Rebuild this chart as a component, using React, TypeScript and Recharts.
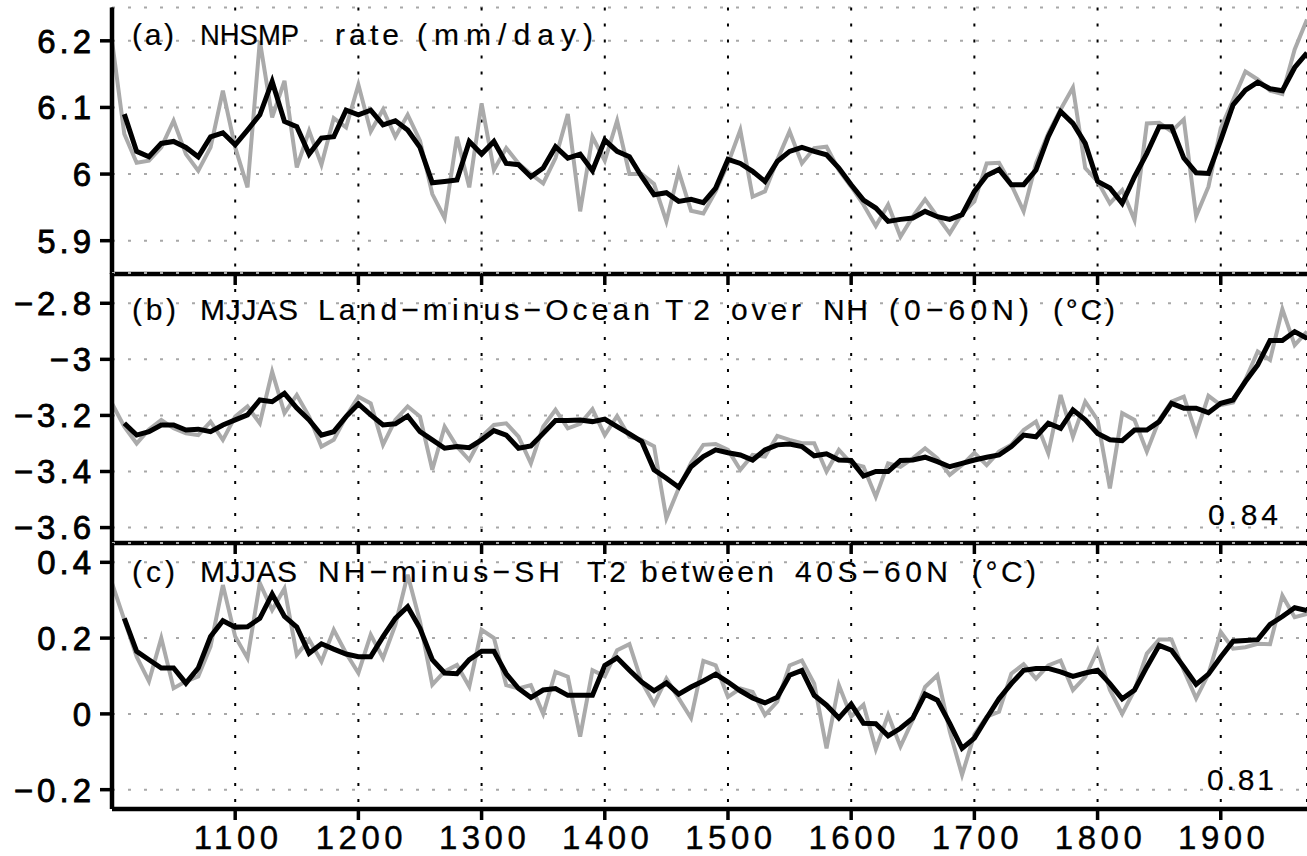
import React from 'react';
import { LineChart, Line, XAxis, YAxis, CartesianGrid } from 'recharts';

const years = [
  1000, 1010, 1020, 1030, 1040, 1050, 1060, 1070, 1080, 1090,
  1100, 1110, 1120, 1130, 1140, 1150, 1160, 1170, 1180, 1190,
  1200, 1210, 1220, 1230, 1240, 1250, 1260, 1270, 1280, 1290,
  1300, 1310, 1320, 1330, 1340, 1350, 1360, 1370, 1380, 1390,
  1400, 1410, 1420, 1430, 1440, 1450, 1460, 1470, 1480, 1490,
  1500, 1510, 1520, 1530, 1540, 1550, 1560, 1570, 1580, 1590,
  1600, 1610, 1620, 1630, 1640, 1650, 1660, 1670, 1680, 1690,
  1700, 1710, 1720, 1730, 1740, 1750, 1760, 1770, 1780, 1790,
  1800, 1810, 1820, 1830, 1840, 1850, 1860, 1870, 1880, 1890,
  1900, 1910, 1920, 1930, 1940, 1950, 1960, 1970,
];

const xTicks = [1100, 1200, 1300, 1400, 1500, 1600, 1700, 1800, 1900];

// (a) NHSMP rate (mm/day)
const rawA = [
  6.2, 6.06, 6.017, 6.02, 6.04, 6.08, 6.03, 6.005, 6.04, 6.125,
  6.04, 5.98, 6.2, 6.085, 6.14, 6.01, 6.065, 6.014, 6.084, 6.07,
  6.134, 6.064, 6.097, 6.056, 6.089, 6.05, 5.97, 5.934, 6.056, 5.98,
  6.106, 6.006, 6.039, 6.016, 6.0, 5.986, 6.024, 6.09, 5.944, 6.056,
  6.02, 6.08, 6.0, 6.0, 5.985, 5.929, 6.004, 5.945, 5.941, 5.974,
  6.016, 6.066, 5.966, 5.974, 6.021, 6.064, 6.016, 6.039, 6.041, 6.006,
  5.981, 5.954, 5.922, 5.954, 5.906, 5.936, 5.962, 5.936, 5.911, 5.941,
  5.959, 6.016, 6.017, 5.984, 5.944, 6.016, 6.061, 6.097, 6.13, 6.009,
  5.989, 5.956, 5.976, 5.931, 6.076, 6.077, 6.064, 6.082, 5.937, 5.981,
  6.069, 6.111, 6.154, 6.142, 6.125, 6.12, 6.187, 6.232,
];
const smoothA = [
  null, 6.09, 6.034, 6.026, 6.046, 6.049, 6.04, 6.026, 6.056, 6.062,
  6.044, 6.066, 6.089, 6.139, 6.079, 6.071, 6.03, 6.054, 6.056, 6.096,
  6.089, 6.096, 6.074, 6.08, 6.066, 6.04, 5.987, 5.989, 5.991, 6.049,
  6.03, 6.049, 6.016, 6.014, 5.996, 6.009, 6.041, 6.024, 6.03, 6.005,
  6.051, 6.034, 6.026, 5.996, 5.969, 5.972, 5.959, 5.962, 5.957, 5.979,
  6.022, 6.016, 6.004, 5.989, 6.019, 6.034, 6.04, 6.034, 6.029, 6.009,
  5.984, 5.961, 5.949, 5.929, 5.932, 5.934, 5.944, 5.936, 5.932, 5.939,
  5.974, 5.998, 6.007, 5.984, 5.984, 6.006, 6.056, 6.094, 6.076, 6.046,
  5.989, 5.979, 5.956, 5.996, 6.031, 6.071, 6.071, 6.024, 6.002, 6.001,
  6.051, 6.104, 6.126, 6.138, 6.128, 6.125, 6.16, 6.182,
];

// (b) MJJAS Land-minus-Ocean T2 over NH (0-60N)
const rawB = [
  -3.157, -3.24, -3.3, -3.25, -3.216, -3.246, -3.264, -3.27, -3.222, -3.287,
  -3.204, -3.168, -3.228, -3.044, -3.192, -3.127, -3.204, -3.311, -3.287, -3.204,
  -3.133, -3.157, -3.305, -3.216, -3.168, -3.204, -3.394, -3.24, -3.311, -3.359,
  -3.276, -3.234, -3.228, -3.276, -3.371, -3.24, -3.18, -3.246, -3.23, -3.178,
  -3.27, -3.202, -3.276, -3.287, -3.31, -3.567, -3.46, -3.37, -3.305, -3.302,
  -3.323, -3.394, -3.341, -3.347, -3.273, -3.287, -3.299, -3.299, -3.4, -3.323,
  -3.371, -3.383, -3.49, -3.371, -3.383, -3.353, -3.317, -3.353, -3.412, -3.377,
  -3.333, -3.377, -3.329, -3.305, -3.252, -3.222, -3.335, -3.127, -3.276, -3.151,
  -3.216, -3.46, -3.192, -3.216, -3.329, -3.216, -3.151, -3.133, -3.264, -3.13,
  -3.163, -3.154, -3.073, -2.972, -3.002, -2.821, -2.949, -2.901,
];
const smoothB = [
  null, -3.228, -3.27, -3.258, -3.234, -3.234, -3.252, -3.249, -3.258, -3.234,
  -3.216, -3.198, -3.145, -3.151, -3.121, -3.174, -3.216, -3.27, -3.258, -3.204,
  -3.159, -3.198, -3.234, -3.23, -3.202, -3.258, -3.287, -3.317, -3.311, -3.315,
  -3.287, -3.254, -3.27, -3.317, -3.309, -3.264, -3.218, -3.218, -3.216, -3.222,
  -3.213, -3.24, -3.266, -3.293, -3.394, -3.424, -3.456, -3.383, -3.347, -3.323,
  -3.333, -3.341, -3.359, -3.323, -3.305, -3.302, -3.311, -3.344, -3.337, -3.359,
  -3.361, -3.416, -3.4, -3.4, -3.361, -3.359, -3.349, -3.365, -3.383, -3.371,
  -3.359, -3.349, -3.341, -3.311, -3.27, -3.276, -3.228, -3.246, -3.18, -3.216,
  -3.264, -3.287, -3.29, -3.252, -3.252, -3.222, -3.157, -3.174, -3.174, -3.19,
  -3.157, -3.145, -3.079, -3.02, -2.933, -2.933, -2.901, -2.925,
];

// (c) MJJAS NH-minus-SH T2 between 40S-60N
const rawC = [
  0.345, 0.248, 0.151, 0.086, 0.2, 0.068, 0.086, 0.099, 0.178, 0.34,
  0.204, 0.147, 0.345, 0.274, 0.331, 0.156, 0.196, 0.138, 0.222, 0.16,
  0.108, 0.209, 0.147, 0.235, 0.367, 0.244, 0.077, 0.112, 0.129, 0.072,
  0.222, 0.2, 0.076, 0.067, 0.076, 0.0, 0.111, 0.098, -0.06, 0.115,
  0.099, 0.168, 0.184, 0.084, 0.026, 0.093, 0.041, -0.011, 0.14, 0.128,
  0.045, 0.067, 0.058, -0.003, 0.032, 0.128, 0.141, 0.08, -0.091, 0.076,
  -0.007, 0.024, -0.093, -0.003, -0.086, -0.016, 0.071, 0.102, -0.046, -0.161,
  -0.055, -0.007, 0.006, 0.106, 0.131, 0.093, 0.128, 0.141, 0.063, 0.098,
  0.168, 0.063, 0.0, 0.063, 0.159, 0.196, 0.196, 0.115, 0.041, 0.105,
  0.216, 0.172, 0.176, 0.185, 0.184, 0.312, 0.255, 0.264,
];
const smoothC = [
  null, 0.252, 0.165, 0.143, 0.121, 0.121, 0.081, 0.121, 0.204, 0.246,
  0.229, 0.23, 0.252, 0.316, 0.257, 0.229, 0.16, 0.185, 0.171, 0.158,
  0.151, 0.151, 0.204, 0.252, 0.283, 0.226, 0.143, 0.108, 0.106, 0.143,
  0.165, 0.165, 0.106, 0.067, 0.043, 0.063, 0.067, 0.049, 0.049, 0.049,
  0.128, 0.148, 0.115, 0.084, 0.061, 0.082, 0.052, 0.071, 0.087, 0.105,
  0.084, 0.061, 0.042, 0.029, 0.044, 0.102, 0.115, 0.049, 0.023, -0.011,
  0.026, -0.025, -0.026, -0.058, -0.038, -0.011, 0.052, 0.036, -0.025, -0.091,
  -0.064, -0.011, 0.04, 0.08, 0.115, 0.12, 0.12, 0.111, 0.099, 0.108,
  0.115, 0.08, 0.04, 0.063, 0.124, 0.181, 0.168, 0.124, 0.078, 0.105,
  0.15, 0.192, 0.194, 0.196, 0.236, 0.257, 0.28, 0.273,
];

const ticksA = [5.9, 6.0, 6.1, 6.2];
const ticksB = [-3.6, -3.4, -3.2, -3.0, -2.8];
const ticksC = [-0.2, 0.0, 0.2, 0.4];

const titleA = '(a) NHSMP rate (mm/day)';
const titleB = '(b) MJJAS Land\u2212minus\u2212Ocean T2 over NH (0\u221260N) (\u00b0C)';
const titleC = '(c) MJJAS NH\u2212minus\u2212SH T2 between 40S\u221260N (\u00b0C)';
const corrB = '0.84';
const corrC = '0.81';

// layout only: horizontal extent [start, end] of each word of the titles, in pixels
const spansA = [[132, 174], [200, 299], [335, 399], [417, 593]];
const spansB = [[132, 176], [200, 298], [318, 650], [665, 710], [731, 801], [823, 868], [889, 1029], [1053, 1115]];
const spansC = [[132, 175], [200, 297], [318, 560], [587, 626], [641, 774], [795, 948], [972, 1036]];

const W = 1307;
const FONT = '"Liberation Sans", Arial, Helvetica, sans-serif';
const X_DOMAIN: [number, number] = [1000, 1970];

const fmtY = (v: number) => {
  const r = Math.round(v * 10) / 10;
  return String(r).replace('-', '\u2212');
};

const YTick = (props: any) => {
  const { x, y, payload } = props;
  return (
    <text
      x={x + 4}
      y={y}
      dy="0.36em"
      textAnchor="end"
      fontFamily={FONT}
      fontSize={33}
      letterSpacing={4}
      fill="#000"
      stroke="#000"
      strokeWidth={0.8}
    >
      {fmtY(payload.value)}
    </text>
  );
};

const XTick = (props: any) => {
  const { x, y, payload } = props;
  return (
    <text
      x={x + 3}
      y={y}
      dy="0.71em"
      textAnchor="middle"
      fontFamily={FONT}
      fontSize={33}
      letterSpacing={4.5}
      fill="#000"
      stroke="#000"
      strokeWidth={0.4}
    >
      {String(payload.value)}
    </text>
  );
};

const NoTick = () => null;

const buildRows = (raw: number[], smooth: (number | null)[]) =>
  years.map((yr, i) => ({ year: yr, raw: raw[i], smooth: smooth[i] }));

const dataA = buildRows(rawA, smoothA);
const dataB = buildRows(rawB, smoothB);
const dataC = buildRows(rawC, smoothC);

type PanelProps = {
  data: any[];
  top: number;
  height: number;
  xHeight: number;
  domain: [number, number];
  yTicks: number[];
  showLabels: boolean;
};

const Panel = ({ data, top, height, xHeight, domain, yTicks, showLabels }: PanelProps) => (
  <div style={{ position: 'absolute', left: 0, top: 0 }}>
    <LineChart width={W} height={height} data={data} margin={{ top, right: 0, bottom: 0, left: 0 }}>
      <CartesianGrid vertical={false} stroke="#a8a8a8" strokeDasharray="3 13" strokeWidth={2} />
      <CartesianGrid horizontal={false} stroke="#000" strokeDasharray="3 13" strokeWidth={2} />
      <XAxis
        dataKey="year"
        type="number"
        domain={X_DOMAIN}
        ticks={xTicks}
        allowDataOverflow
        height={xHeight}
        tickSize={11}
        tickMargin={6}
        tick={showLabels ? <XTick /> : NoTick}
        tickLine={{ stroke: '#000', strokeWidth: 3.5 }}
        axisLine={{ stroke: '#000', strokeWidth: 4.5 }}
      />
      <XAxis
        xAxisId="top"
        orientation="top"
        dataKey="year"
        type="number"
        domain={X_DOMAIN}
        allowDataOverflow
        height={0}
        tick={false}
        tickLine={false}
        axisLine={{ stroke: '#000', strokeWidth: 4.5 }}
      />
      <YAxis
        type="number"
        domain={domain}
        ticks={yTicks}
        allowDataOverflow
        width={112}
        tickSize={12}
        tickMargin={9}
        tick={<YTick />}
        tickLine={{ stroke: '#000', strokeWidth: 3.5 }}
        axisLine={{ stroke: '#000', strokeWidth: 4.5 }}
      />
      <Line
        type="linear"
        dataKey="raw"
        stroke="#aaaaaa"
        strokeWidth={4}
        dot={false}
        activeDot={false}
        isAnimationActive={false}
      />
      <Line
        type="linear"
        dataKey="smooth"
        stroke="#000"
        strokeWidth={5}
        dot={false}
        activeDot={false}
        isAnimationActive={false}
      />
    </LineChart>
  </div>
);

// words that are narrower in the reference than their natural width get glyph scaling
const Title = ({ text, spans, y, squeeze = [] }: { text: string; spans: number[][]; y: number; squeeze?: number[] }) => (
  <g>
    {text.split(' ').map((w, i) => (
      <text
        key={i}
        x={spans[i][0]}
        y={y}
        textLength={spans[i][1] - spans[i][0]}
        lengthAdjust={squeeze.includes(i) ? 'spacingAndGlyphs' : 'spacing'}
      >
        {w}
      </text>
    ))}
  </g>
);

export default function App() {
  return (
    <div style={{ position: 'absolute', left: 0, top: 0, width: W, height: 856, background: '#fff', overflow: 'hidden' }}>
      <Panel data={dataA} top={7.5} height={285} xHeight={11} domain={[5.85, 6.25]} yTicks={ticksA} showLabels={false} />
      <Panel data={dataB} top={273} height={554} xHeight={11} domain={[-3.655, -2.692]} yTicks={ticksB} showLabels={false} />
      <Panel data={dataC} top={543} height={856} xHeight={47} domain={[-0.251, 0.451]} yTicks={ticksC} showLabels={true} />
      <svg width={W} height={856} style={{ position: 'absolute', left: 0, top: 0, pointerEvents: 'none' }}>
        <g fontFamily={FONT} fontSize={30} fill="#000" stroke="#000" strokeWidth={0.2}>
          <Title text={titleA} spans={spansA} y={45} squeeze={[1]} />
          <Title text={titleB} spans={spansB} y={320} />
          <Title text={titleC} spans={spansC} y={582} />
          <text x={1208} y={525} fontSize={30} textLength={70} lengthAdjust="spacing">{corrB}</text>
          <text x={1207} y={790} fontSize={30} textLength={67} lengthAdjust="spacing">{corrC}</text>
        </g>
      </svg>
    </div>
  );
}
